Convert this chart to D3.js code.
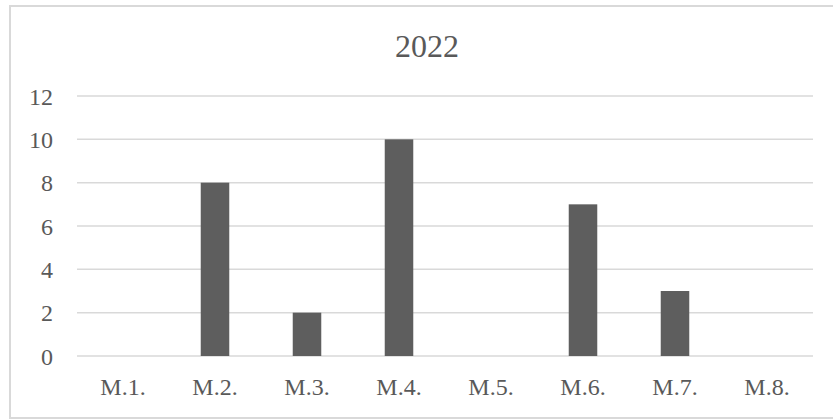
<!DOCTYPE html>
<html>
<head>
<meta charset="utf-8">
<script src="https://cdn.jsdelivr.net/npm/d3@7"></script>
<style>
  body { margin: 0; background: #fff; }
  text { font-family: "Liberation Serif", "Times New Roman", serif; fill: #595959; }
</style>
</head>
<body>
<div id="chart"></div>
<script>
// chart data
var categories = ["M.1.", "M.2.", "M.3.", "M.4.", "M.5.", "M.6.", "M.7.", "M.8."];
var values = [0, 8, 2, 10, 0, 7, 3, 0];
var yTicks = [0, 2, 4, 6, 8, 10, 12];
var title = "2022";

var svgWidth = 833;
var svgHeight = 419;

var margin = { top: 96, right: 20, bottom: 63, left: 77 };
var plotWidth = 813 - margin.left;
var plotHeight = 356 - margin.top;

var svg = d3.select("#chart")
  .append("svg")
  .attr("width", svgWidth)
  .attr("height", svgHeight);

// outer frame
svg.append("rect")
  .attr("x", 10)
  .attr("y", 6)
  .attr("width", 840)
  .attr("height", 412)
  .attr("fill", "none")
  .attr("stroke", "#d9d9d9")
  .attr("stroke-width", 2);

svg.append("text")
  .attr("x", 427)
  .attr("y", 57)
  .attr("text-anchor", "middle")
  .attr("font-size", "32px")
  .text(title);

var g = svg.append("g")
  .attr("transform", `translate(${margin.left}, ${margin.top})`);

var xScale = d3.scaleBand()
  .domain(categories)
  .range([0, plotWidth]);

var yScale = d3.scaleLinear()
  .domain([0, 12])
  .range([plotHeight, 0]);

// gridlines
g.append("g")
  .selectAll("line")
  .data(yTicks)
  .enter()
  .append("line")
  .attr("x1", 0)
  .attr("x2", plotWidth)
  .attr("y1", d => yScale(d))
  .attr("y2", d => yScale(d))
  .attr("stroke", "#d9d9d9")
  .attr("stroke-width", 1.5);

var yAxis = d3.axisLeft(yScale).tickValues(yTicks).tickSize(0).tickPadding(24);
var yg = g.append("g").call(yAxis);
yg.select(".domain").remove();
yg.selectAll("text").attr("font-size", "24px").attr("dy", "0.34em").attr("fill", "#595959");

var xAxis = d3.axisBottom(xScale).tickSize(0).tickPadding(22);
var xg = g.append("g").attr("transform", `translate(0, ${plotHeight})`).call(xAxis);
xg.select(".domain").remove();
xg.selectAll("text").attr("font-size", "24px").attr("dy", "0.71em").attr("fill", "#595959");

var barWidth = xScale.bandwidth() * 0.31;

g.selectAll("rect.bar")
  .data(values)
  .enter()
  .append("rect")
  .attr("class", "bar")
  .attr("x", (d, i) => xScale(categories[i]) + (xScale.bandwidth() - barWidth) / 2)
  .attr("y", d => yScale(d))
  .attr("width", barWidth)
  .attr("height", d => plotHeight - yScale(d))
  .attr("fill", "#5e5e5e");
</script>
</body>
</html>
